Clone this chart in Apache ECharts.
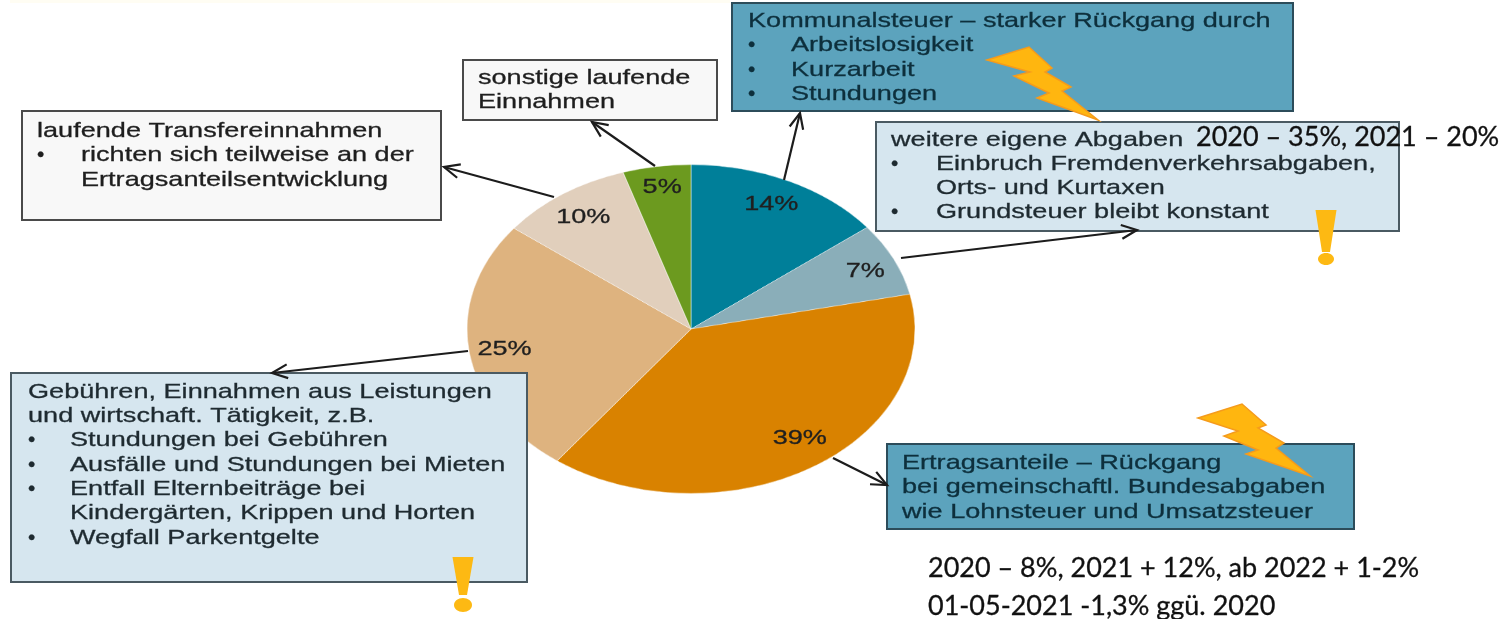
<!DOCTYPE html>
<html>
<head>
<meta charset="utf-8">
<title>Einnahmen</title>
<script src="https://cdn.jsdelivr.net/npm/echarts@6/dist/echarts.min.js"></script>
<style>
html, body { margin: 0; padding: 0; background: #fff; overflow: hidden; }
#stage { position: relative; width: 1503px; height: 619px; }
/* the pie in the picture is an ellipse, ECharts only draws round ones */
#Pie { position: absolute; left: 461px; top: 98.5px; width: 460px; height: 460px; transform: scaleY(0.734); transform-origin: 50% 50%; }
#Notes { position: absolute; left: 0; top: 0; width: 1503px; height: 619px; }
</style>
</head>
<body>
<div id="stage">
  <div id="Pie"></div>
  <div id="Notes"></div>
</div>
<script>
var pieNames = ['Kommunalsteuer', 'weitere eigene Abgaben', 'Ertragsanteile', 'Gebühren, Einnahmen aus Leistungen', 'laufende Transfereinnahmen', 'sonstige laufende Einnahmen'];
// slice sizes as measured, the labels in the picture are rounded
var pieValues = [14.4, 7.2, 38.6, 25.3, 9.6, 4.9];
var pieColors = ['#007f99', '#8aaeb9', '#d98200', '#deb37f', '#e1cfbc', '#6c9a1f'];

var transferLines = ['laufende Transfereinnahmen', '• richten sich teilweise an der', '  Ertragsanteilsentwicklung'];
var sonstigeLines = ['sonstige laufende', 'Einnahmen'];
var kommunalLines = ['Kommunalsteuer – starker Rückgang durch', '• Arbeitslosigkeit', '• Kurzarbeit', '• Stundungen'];
var abgabenLines = ['weitere eigene Abgaben', '• Einbruch Fremdenverkehrsabgaben,', '  Orts- und Kurtaxen', '• Grundsteuer bleibt konstant'];
var ertragLines = ['Ertragsanteile – Rückgang', 'bei gemeinschaftl. Bundesabgaben', 'wie Lohnsteuer und Umsatzsteuer'];
var gebuehrLines = ['Gebühren, Einnahmen aus Leistungen', 'und wirtschaft. Tätigkeit, z.B.', '• Stundungen bei Gebühren', '• Ausfälle und Stundungen bei Mieten', '• Entfall Elternbeiträge bei', '  Kindergärten, Krippen und Horten', '• Wegfall Parkentgelte'];
var forecastAbgaben = '2020 – 35%, 2021 – 20%';
var forecastErtrag = ['2020 – 8%, 2021 + 12%, ab 2022 + 1-2%', '01-05-2021 -1,3% ggü. 2020'];

var CX = 691, CY = 328.5, RX = 224, RY = 164.5;
var SANS = '21px "Liberation Sans", Arial, sans-serif';
var SX = 1.29;
// small shifts of the percent labels from their spot on the slice
var labelNudge = [[-2, 0], [4, 2], [7, -6], [0, 2], [0, 2], [0, -5]];

var Pie = echarts.init(document.getElementById('Pie'));
Pie.setOption({
    animation: false,
    series: [{
        type: 'pie',
        silent: true,
        radius: [0, RX],
        center: ['50%', '50%'],
        startAngle: 90,
        clockwise: true,
        label: { show: false },
        labelLine: { show: false },
        itemStyle: { borderColor: 'rgba(255,255,255,0.45)', borderWidth: 1 },
        data: pieValues.map(function (v, i) {
            return { name: pieNames[i], value: v, itemStyle: { color: pieColors[i] } };
        })
    }]
});

var els = [];

function rect(x, y, w, h, fill, stroke) {
    els.push({ type: 'rect', shape: { x: x, y: y, width: w, height: h }, style: { fill: fill, stroke: stroke, lineWidth: 2 } });
}

function text(x, y, str, color, font, sx) {
    els.push({ type: 'text', x: x, y: y, scaleX: sx, style: { text: str, fill: color, stroke: color, lineWidth: 0.3, font: font, verticalAlign: 'middle', align: 'left' } });
}

// lines: "• " starts a bullet, two spaces continue one
function box(b) {
    rect(b.x, b.y, b.w, b.h, b.fill, b.stroke);
    b.lines.forEach(function (l, i) {
        var y = b.firstY + i * b.step;
        if (l.indexOf('• ') === 0) {
            text(b.textX, y, '•', b.color, SANS, 1);
            text(b.indentX, y, l.slice(2), b.color, SANS, SX);
        } else if (l.indexOf('  ') === 0) {
            text(b.indentX, y, l.slice(2), b.color, SANS, SX);
        } else {
            text(b.textX, y, l, b.color, SANS, SX);
        }
    });
}

function arrow(x1, y1, x2, y2) {
    var a = Math.atan2(y1 - y2, x1 - x2), len = 17, w = 0.42;
    els.push({ type: 'line', shape: { x1: x1, y1: y1, x2: x2, y2: y2 }, style: { stroke: '#1c1c1c', lineWidth: 2.2 } });
    els.push({
        type: 'polyline',
        shape: { points: [[x2 + len * Math.cos(a + w), y2 + len * Math.sin(a + w)], [x2, y2], [x2 + len * Math.cos(a - w), y2 + len * Math.sin(a - w)]] },
        style: { stroke: '#1c1c1c', lineWidth: 2.2, fill: null }
    });
}

function bolt(points) {
    els.push({ type: 'polygon', shape: { points: points }, style: { fill: '#ffb60f', stroke: '#f59b1c', lineWidth: 1.5 } });
}

function mark(x, top, barBottom, halfWidth, dotY, dotR) {
    var c = '#fdb913';
    els.push({ type: 'polygon', shape: { points: [[x - halfWidth, top], [x + halfWidth, top], [x + 4, barBottom], [x - 4, barBottom]] }, style: { fill: c } });
    els.push({ type: 'ellipse', shape: { cx: x, cy: dotY, rx: dotR + 2, ry: dotR }, style: { fill: c } });
}

// faint remains of the cut off heading
rect(10, 0, 720, 3, '#fffdf3', 'transparent');

// percent labels sit at the same relative radius on every slice
var total = pieValues.reduce(function (a, b) { return a + b; }, 0);
var sum = 0;
pieValues.forEach(function (v, i) {
    var mid = (sum + v / 2) / total * 2 * Math.PI;
    sum += v;
    els.push({
        type: 'text',
        x: CX + 0.84 * RX * Math.sin(mid) + labelNudge[i][0],
        y: CY - 0.84 * RY * Math.cos(mid) + labelNudge[i][1],
        scaleX: SX,
        style: { text: Math.round(v) + '%', fill: '#1f1f1f', stroke: '#1f1f1f', lineWidth: 0.3, font: SANS, align: 'center', verticalAlign: 'middle' }
    });
});

box({ x: 22, y: 111, w: 419, h: 109, fill: '#f8f8f8', stroke: '#4a4a4a', color: '#1e1e1e', lines: transferLines, textX: 37, indentX: 81, firstY: 131, step: 24.5 });
box({ x: 463, y: 60, w: 254, h: 60, fill: '#f8f8f8', stroke: '#4a4a4a', color: '#1e1e1e', lines: sonstigeLines, textX: 478, indentX: 478, firstY: 78, step: 24.5 });
box({ x: 732, y: 3, w: 561, h: 108, fill: '#5ca3bd', stroke: '#2c4c5a', color: '#0d2f3c', lines: kommunalLines, textX: 748, indentX: 791, firstY: 21, step: 24.5 });
box({ x: 876, y: 122, w: 523, h: 109, fill: '#d6e6ef', stroke: '#4a5a62', color: '#1e2a30', lines: abgabenLines, textX: 891, indentX: 936, firstY: 140, step: 24 });
box({ x: 887, y: 444, w: 467, h: 85, fill: '#5ca3bd', stroke: '#2c4c5a', color: '#0d2f3c', lines: ertragLines, textX: 902, indentX: 902, firstY: 463, step: 24.5 });
box({ x: 11, y: 373, w: 516, h: 209, fill: '#d6e6ef', stroke: '#4a5a62', color: '#1e2a30', lines: gebuehrLines, textX: 28, indentX: 70, firstY: 392, step: 24.3 });

arrow(554, 197, 444, 167);
arrow(655, 166, 592, 122);
arrow(784, 180, 800, 113);
arrow(901, 258, 1137, 230);
arrow(833, 458, 887, 485);
arrow(468, 351, 272, 373);

bolt([[987, 60], [1029, 47], [1052, 68], [1045, 72], [1071, 87], [1062, 91], [1098, 120], [1037, 98], [1049, 93], [1014, 76], [1030, 72]]);
bolt([[1198, 418], [1242, 404], [1266, 425], [1258, 428], [1284, 443], [1276, 448], [1310, 476], [1246, 454], [1258, 450], [1224, 436], [1238, 431]]);

mark(1326, 210, 252, 10.5, 259, 6);
mark(463, 557, 595, 10.5, 605, 7);

var CALI = '27px Lato, "Noto Sans", sans-serif';
text(1196, 137, forecastAbgaben, '#111', CALI, 1);
text(928, 568, forecastErtrag[0], '#111', CALI, 1);
text(928, 606, forecastErtrag[1], '#111', CALI, 1);

var Notes = echarts.init(document.getElementById('Notes'));
Notes.setOption({
    animation: false,
    backgroundColor: 'transparent',
    graphic: { elements: els }
});
</script>
</body>
</html>
